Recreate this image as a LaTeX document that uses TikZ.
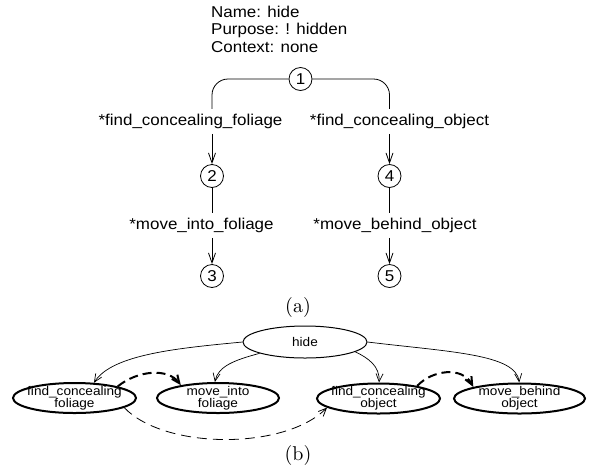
\documentclass[tikz,border=0pt]{standalone}
\usepackage{fontspec}
\newfontfamily\arialfont{Liberation Sans}[FakeStretch=1.08]
\usetikzlibrary{arrows.meta,shapes.geometric,calc}
\begin{document}
\begin{tikzpicture}[
  x=1pt, y=-1pt,
  lbl/.style={font=\arialfont\fontsize{15.7}{17.5}\selectfont, inner xsep=0pt, inner ysep=5pt},
  hdr/.style={font=\arialfont\fontsize{15.7}{17.5}\selectfont, inner sep=0pt, anchor=base west},
  num/.style={circle, draw, line width=0.8pt, minimum size=23pt, inner sep=0pt,
              font=\arialfont\fontsize{15.7}{17.5}\selectfont},
  conn/.style={line width=0.8pt},
  arr/.style={-{Straight Barb[length=10pt,width=7pt]}},
  goal/.style={ellipse, draw, line width=1pt, minimum width=124pt, minimum height=32pt,
               inner sep=0pt, font=\arialfont\fontsize{12.6}{12}\selectfont},
  task/.style={ellipse, draw, line width=2pt, minimum height=30pt, inner xsep=-20pt,
               inner ysep=-6pt, align=center, font=\arialfont\fontsize{12.6}{12}\selectfont},
  tedge/.style={line width=0.7pt, -{Straight Barb[length=8pt,width=7pt]}},
  seqarr/.style={line width=2pt, dash pattern=on 9pt off 5pt,
                 -{Straight Barb[length=8pt,width=7pt,line width=2pt]}},
  altarr/.style={line width=0.8pt, dash pattern=on 10pt off 6pt,
                 -{Straight Barb[length=8pt,width=7pt]}},
  capt/.style={font=\fontsize{10}{12}\selectfont, inner sep=0pt, anchor=base}
]
\useasboundingbox (0,0) rectangle (593,469);

% ---------- part (a) ----------
\node[hdr] (h1) at (211,17.3) {Name: hide};
\node[hdr] (h2) at (211,34.8) {Purpose: ! hidden};
\node[hdr] (h3) at (211,52.3) {Context: none};

\node[num] (c1) at (300.5,79) {1};
\node[num] (c2) at (212,176) {2};
\node[num] (c3) at (212,276) {3};
\node[num] (c4) at (389.5,176) {4};
\node[num] (c5) at (389.5,276) {5};

\node[lbl, anchor=base] (f1) at (190.5,125.5) {*find\_concealing\_foliage};
\node[lbl, anchor=base] (f2) at (399.5,125.5) {*find\_concealing\_object};
\node[lbl, anchor=base] (m1) at (201.5,229.3) {*move\_into\_foliage};
\node[lbl, anchor=base] (m2) at (395,229.3) {*move\_behind\_object};

\draw[conn, rounded corners=16pt] (c1.west) -| (c2 |- f1.north);
\draw[conn, rounded corners=16pt] (c1.east) -| (c4 |- f2.north);
\draw[conn, arr] (c2 |- f1.south) -- (c2.north);
\draw[conn, arr] (c4 |- f2.south) -- (c4.north);
\draw[conn] (c2.south) -- (c2 |- m1.north);
\draw[conn] (c4.south) -- (c4 |- m2.north);
\draw[conn, arr] (c2 |- m1.south) -- (c3.north);
\draw[conn, arr] (c4 |- m2.south) -- (c5.north);

\node[capt] (la) at (298,312) {\scalebox{2}{(a)}};

% ---------- part (b) ----------
\node[goal] (hide) at (305,342) {hide};
\node[task, minimum width=123pt] (fcf) at (74.5,398) {find\_concealing\\foliage};
\node[task, minimum width=122pt] (mif) at (218,398) {move\_into\\foliage};
\node[task, minimum width=123pt] (fco) at (378.5,398.5) {find\_concealing\\object};
\node[task, minimum width=131pt] (mbo) at (519.5,398.5) {move\_behind\\object};

\draw[tedge] (hide.west) .. controls (180,348) and (112,354) .. (fcf.38);
\draw[tedge] (hide.194) .. controls (235,360) and (218,366) .. (mif.101);
\draw[tedge] (hide.-11) .. controls (368,358) and (380,366) .. (fco.88);
\draw[tedge] (hide.east) .. controls (450,352) and (516,354) .. (mbo.91);

\draw[seqarr] (fcf.15) .. controls (138,370) and (168,368) .. (mif.161);
\draw[seqarr] (fco.18) .. controls (432,370) and (462,366) .. (mbo.166);
\draw[altarr] (fcf.-11) .. controls (165,450) and (285,450) .. (fco.190);

\node[capt] (lb) at (298,460) {\scalebox{2}{(b)}};
\end{tikzpicture}
\end{document}
